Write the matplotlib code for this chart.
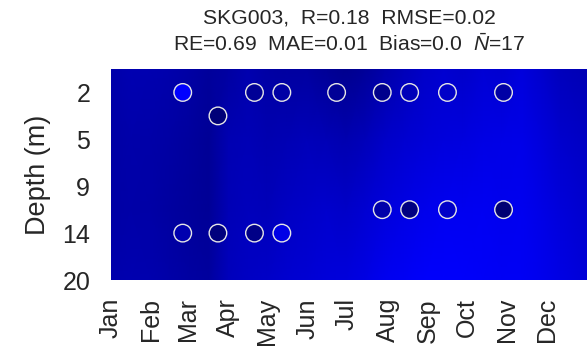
import numpy as np
import matplotlib
matplotlib.use("Agg")
import matplotlib.pyplot as plt
from matplotlib.colors import LinearSegmentedColormap, Normalize

plt.rcParams["font.family"] = ["Liberation Sans", "DejaVu Sans"]
plt.rcParams["mathtext.fontset"] = "custom"
plt.rcParams["mathtext.it"] = "Liberation Sans:italic"
plt.rcParams["mathtext.rm"] = "Liberation Sans"

# ── data ─────────────────────────────────────────────────────────────────────
months     = ["Jan", "Feb", "Mar", "Apr", "May", "Jun",
              "Jul", "Aug", "Sep", "Oct", "Nov", "Dec"]
month_days = [0, 31, 59, 90, 120, 151, 181, 212, 243, 273, 304, 334]

depth_labels = ["2", "5", "9", "14", "20"]
depth_pos    = [1, 2, 3, 4, 5]

# model field (colour level), sampled every ~15 days at 4 depth levels
grid_days  = [0, 15, 30, 45, 60, 75, 90, 105, 120, 135, 150, 165, 180,
              195, 210, 225, 240, 255, 270, 285, 300, 315, 330, 345, 365]
grid_depth = [0.5, 2.0, 3.5, 5.0]
field_top  = [170, 178, 176, 172, 165, 155, 162, 175, 164, 160, 160, 150, 142,
              152, 170, 185, 200, 208, 202, 212, 208, 220, 205, 188, 180]
field_up   = [165, 170, 168, 164, 158, 150, 178, 182, 176, 180, 185, 182, 176,
              185, 200, 208, 215, 220, 222, 228, 230, 232, 220, 205, 195]
field_low  = [165, 168, 166, 160, 155, 150, 182, 188, 185, 195, 200, 205, 200,
              210, 220, 228, 235, 240, 240, 242, 238, 240, 230, 218, 205]
field_bot  = [172, 176, 174, 168, 162, 158, 188, 196, 200, 208, 212, 218, 220,
              228, 240, 245, 250, 252, 250, 248, 245, 245, 238, 228, 215]

# observations
obs_day   = [55, 110, 131, 173, 208, 229, 258, 301,
             82,
             55, 82, 110, 131,
             208, 229, 258, 301]
obs_depth = [1, 1, 1, 1, 1, 1, 1, 1,
             1.5,
             4, 4, 4, 4,
             3.5, 3.5, 3.5, 3.5]
obs_val   = [255, 150, 165, 150, 140, 185, 200, 165,
             120,
             175, 125, 135, 230,
             170, 130, 200, 115]

# ── plot ─────────────────────────────────────────────────────────────────────
cmap = LinearSegmentedColormap.from_list("navyblue", [(0, 0, 112/255), (0, 0, 1)])
norm = Normalize(vmin=112, vmax=255)

fig = plt.figure(figsize=(5.87, 3.59), dpi=100)
ax = fig.add_axes([111/587, 79/359, 476/587, 211/359])

X, Y = np.meshgrid(grid_days, grid_depth)
C = np.array([field_top, field_up, field_low, field_bot])
ax.pcolormesh(X, Y, C, cmap=cmap, norm=norm, shading="gouraud")

ax.scatter(obs_day, obs_depth, c=obs_val, cmap=cmap, norm=norm, s=160,
           edgecolors="#e6e6e6", linewidths=1.0, zorder=3)

ax.set_xlim(0, 365)
ax.set_ylim(5, 0.5)
ax.set_xticks(month_days)
ax.set_xticklabels(months, rotation=90, fontsize=18, color="#262626")
ax.set_yticks(depth_pos)
ax.set_yticklabels(depth_labels, fontsize=18, color="#262626")
ax.tick_params(axis="both", length=0)
ax.tick_params(axis="x", pad=13)
ax.tick_params(axis="y", pad=15)
for s in ax.spines.values():
    s.set_visible(False)

ax.set_ylabel("Depth (m)", fontsize=19.5, color="#262626")
ax.yaxis.set_label_coords(-0.126, 0.5)

ax.set_title("SKG003,  R=0.18  RMSE=0.02\nRE=0.69  MAE=0.01  Bias=0.0  $\\bar{N}$=17",
             fontsize=15.2, color="#262626", pad=13, linespacing=1.33)

fig.savefig("out.png", dpi=100)
